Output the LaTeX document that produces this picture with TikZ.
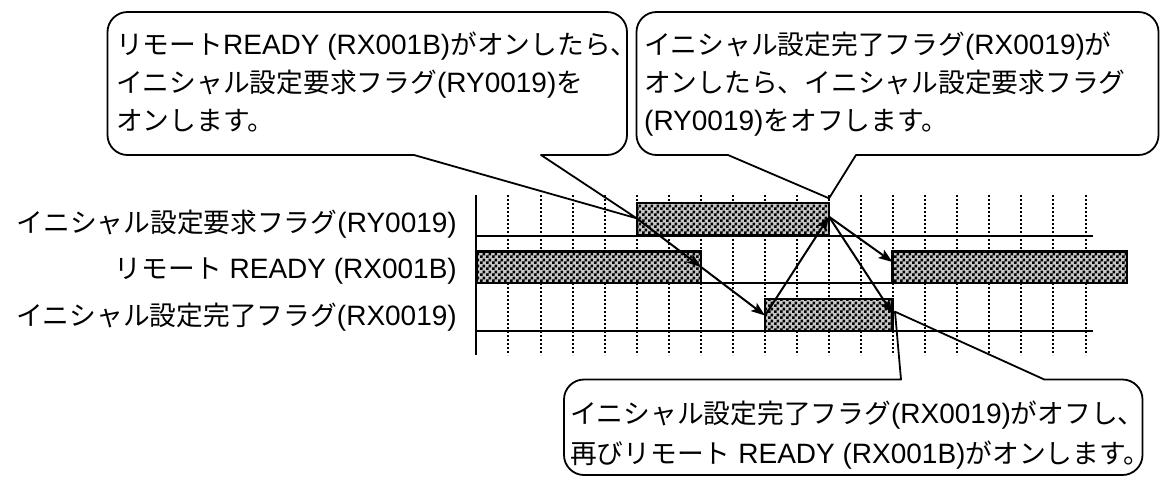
\documentclass[tikz,border=0pt]{standalone}
\usepackage{fontspec}
\setmainfont{Liberation Sans}
\newfontfamily\jpfont[Scale=0.955]{Noto Sans CJK JP}
\newcommand\J[1]{{\jpfont #1}}
\usetikzlibrary{arrows.meta,patterns}
\pgfdeclarepatternformonly{chk}{\pgfqpoint{0pt}{0pt}}{\pgfqpoint{6pt}{6pt}}{\pgfqpoint{6pt}{6pt}}{%
  \pgfpathrectangle{\pgfqpoint{0pt}{0pt}}{\pgfqpoint{3pt}{3pt}}%
  \pgfpathrectangle{\pgfqpoint{3pt}{3pt}}{\pgfqpoint{3pt}{3pt}}%
  \pgfusepath{fill}}
\tikzset{
  bar/.style={draw=black, line width=2.2pt, preaction={fill=black!22}, pattern=chk, pattern color=black},
  baseline/.style={line width=2pt},
  gridline/.style={line width=2pt, dash pattern=on 2pt off 2pt},
  callout/.style={draw, line width=1.8pt, line join=round},
  arr/.style={line width=2pt, -{Stealth[length=14pt,width=10pt,inset=3pt]}},
  lbl/.style={font=\fontsize{28}{34}\selectfont, inner sep=0pt},
}
\begin{document}
\begin{tikzpicture}[x=1pt,y=-1pt]
\useasboundingbox (0,0) rectangle (1160,480);
% grid
\foreach \k in {1,...,19} \draw[gridline] ({476.4+32.06*\k},195) -- ++(0,160);
\draw[line width=2pt] (476.4,195) -- (476.4,355);
% baselines
\draw[baseline] (476.4,235.5) -- (1093,235.5);
\draw[baseline] (476.4,283.3) -- (1093,283.3);
\draw[baseline] (476.4,331.3) -- (1093,331.3);
% bars
\draw[bar] (636.7,203.3) rectangle (829.1,235.5);
\draw[bar] (476.4,251.5) rectangle (701,283.3);
\draw[bar] (892.5,251.5) rectangle (1127,283.3);
\draw[bar] (765,299) rectangle (892.5,331.3);
% event points
\coordinate (p1) at (636.7,218.3);
\coordinate (p2) at (701,267);
\coordinate (p3) at (765,315.5);
\coordinate (p4) at (829,216.7);
\coordinate (p5) at (892.5,262);
\coordinate (p6) at (892.5,313.5);
\coordinate (t2) at (829,198.3);
\coordinate (t3) at (895,311.7);
% arrows
\draw[arr] (p1) -- (p2);
\draw[arr] (p2) -- (p3);
\draw[arr] (p3) -- (p4);
\draw[arr] (p4) -- (p5);
\draw[arr] (p4) -- (p6);
% callout 1
\draw[callout] (541,155) -- (607,155) .. controls (618,155) and (627,146) .. (627,135) -- (627,32) .. controls (627,21) and (618,12) .. (607,12) -- (127.5,12) .. controls (116.5,12) and (107.5,21) .. (107.5,32) -- (107.5,135) .. controls (107.5,146) and (116.5,155) .. (127.5,155) -- (414,155) -- (p1) -- cycle;
% callout 2
\draw[callout] (856,155) -- (1138.5,155) .. controls (1149.5,155) and (1158.5,146) .. (1158.5,135) -- (1158.5,32) .. controls (1158.5,21) and (1149.5,12) .. (1138.5,12) -- (656.5,12) .. controls (645.5,12) and (636.5,21) .. (636.5,32) -- (636.5,135) .. controls (636.5,146) and (645.5,155) .. (656.5,155) -- (728,155) -- (t2) -- cycle;
% callout 3
\draw[callout] (901,379.5) -- (584,379.5) .. controls (573,379.5) and (564,388.5) .. (564,399.5) -- (564,455) .. controls (564,466) and (573,475) .. (584,475) -- (1122.5,475) .. controls (1133.5,475) and (1142.5,466) .. (1142.5,455) -- (1142.5,399.5) .. controls (1142.5,388.5) and (1133.5,379.5) .. (1122.5,379.5) -- (1044.3,379.5) -- (t3) -- cycle;
% signal labels
\node[lbl, anchor=base east] (l1) at (457,232) {\J{イニシャル設定要求フラグ}(RY0019)};
\node[lbl, anchor=base east] (l2) at (457,278.5) {\J{リモート} READY (RX001B)};
\node[lbl, anchor=base east] (l3) at (457,325.5) {\J{イニシャル設定完了フラグ}(RX0019)};
% callout texts
\node[lbl, anchor=base west] (c1a) at (116,54.5) {\J{リモート}READY (RX001B)\J{がオンしたら、}};
\node[lbl, anchor=base west] (c1b) at (116,92.5) {\J{イニシャル設定要求フラグ}(RY0019)\J{を}};
\node[lbl, anchor=base west] (c1c) at (116,130.5) {\J{オンします。}};
\node[lbl, anchor=base west] (c2a) at (644,54.5) {\J{イニシャル設定完了フラグ}(RX0019)\J{が}};
\node[lbl, anchor=base west] (c2b) at (644,92.5) {\J{オンしたら、イニシャル設定要求フラグ}};
\node[lbl, anchor=base west] (c2c) at (644,130.5) {(RY0019)\J{をオフします。}};
\node[lbl, anchor=base west] (c3a) at (570,423) {\J{イニシャル設定完了フラグ}(RX0019)\J{がオフし、}};
\node[lbl, anchor=base west] (c3b) at (570,463) {\J{再びリモート} READY (RX001B)\J{がオンします。}};
\end{tikzpicture}
\end{document}
